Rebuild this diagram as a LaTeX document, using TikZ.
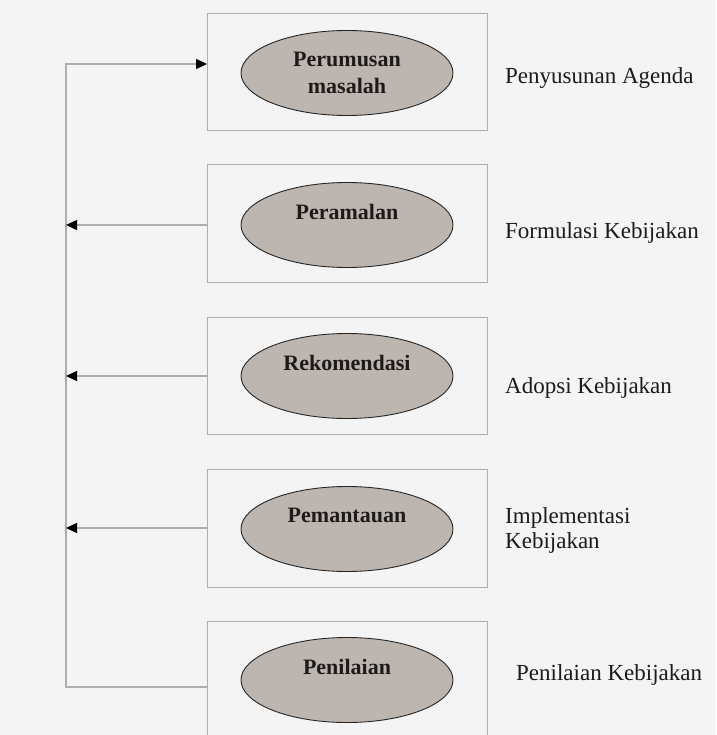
\documentclass[tikz,border=0pt]{standalone}
\usepackage{fontspec}
\setmainfont{Liberation Serif}
\usetikzlibrary{shapes.geometric,arrows.meta}
\definecolor{bgc}{HTML}{F4F4F4}
\definecolor{boxc}{HTML}{AEAEAE}
\definecolor{ellc}{HTML}{BDB6B0}
\definecolor{txtc}{HTML}{1E1A1A}
\tikzset{
  stagebox/.style={draw=boxc, line width=1.4pt, minimum width=280pt, inner sep=0pt, anchor=north west},
  stageell/.style={ellipse, draw=black!85, line width=0.9pt, fill=ellc, minimum width=212pt, minimum height=85pt, inner sep=0pt,
    font=\fontsize{22}{27}\selectfont\bfseries, text=txtc, align=center},
  phase/.style={anchor=west, font=\fontsize{23}{25}\selectfont, text=txtc, align=left, inner sep=0pt},
  link/.style={draw=boxc, line width=1.4pt},
  arr/.style={-{Triangle[length=11pt,width=10pt,color=black]}}
}
\begin{document}
\begin{tikzpicture}[x=1pt,y=-1pt]
\fill[bgc] (0,0) rectangle (716,735);
\useasboundingbox (0,0) rectangle (716,735);
% boxes
\node[stagebox, minimum height=117pt] (b1) at (207,13) {};
\node[stagebox, minimum height=118pt] (b2) at (207,164) {};
\node[stagebox, minimum height=117pt] (b3) at (207,317) {};
\node[stagebox, minimum height=118pt] (b4) at (207,469) {};
\node[stagebox, minimum height=150pt] (b5) at (207,621) {};
% ellipses
\node[stageell] (e1) at (347,73) {Perumusan\\masalah};
\node[stageell] (e2) at (347,225) {Peramalan\\\mbox{}};
\node[stageell] (e3) at (347,376) {Rekomendasi\\\mbox{}};
\node[stageell] (e4) at (347,529) {Pemantauan\\\mbox{}};
\node[stageell] (e5) at (347,680) {Penilaian\\\mbox{}};
% phase labels
\node[phase] (p1) at (505,78) {Penyusunan Agenda};
\node[phase] (p2) at (505,233) {Formulasi Kebijakan};
\node[phase] (p3) at (505,388) {Adopsi Kebijakan};
\node[phase] (p4) at (505,530) {Implementasi\\Kebijakan};
\node[phase] (p5) at (516,675) {Penilaian Kebijakan};
% spine coordinates
\coordinate (s1) at (66,64);
\coordinate (s2) at (66,225);
\coordinate (s3) at (66,376);
\coordinate (s4) at (66,528);
\coordinate (s5) at (66,687);
% connectors
\draw[link, arr] (s5 -| b5.west) -- (s5) -- (s1) -- (s1 -| b1.west);
\draw[link, arr] (s2 -| b2.west) -- (s2);
\draw[link, arr] (s3 -| b3.west) -- (s3);
\draw[link, arr] (s4 -| b4.west) -- (s4);
\end{tikzpicture}
\end{document}
